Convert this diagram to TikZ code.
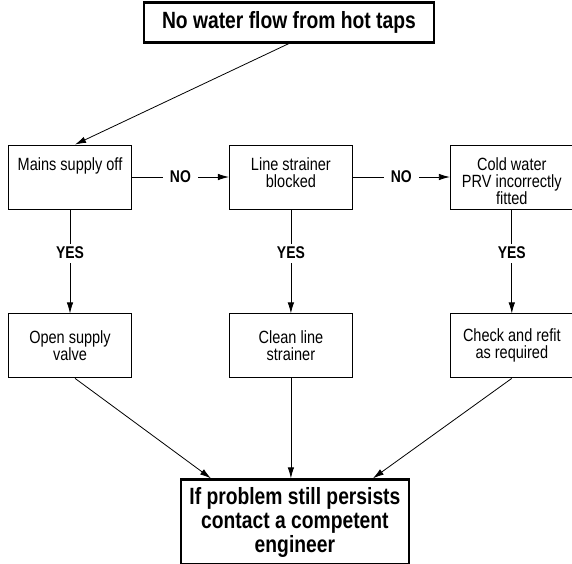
\documentclass[tikz,border=0pt]{standalone}
\usepackage{fontspec}
\setmainfont{Liberation Sans}[FakeStretch=0.82]
\usetikzlibrary{positioning}
\usetikzlibrary{arrows.meta}
\newcommand{\asktext}[1]{\parbox[c][64pt][t]{123pt}{\centering\vspace*{13pt}#1}}

\begin{document}
\begin{tikzpicture}[x=1pt, y=-1pt, line width=0.8pt, >={Latex[length=11pt,width=6.5pt]},
  every node/.style = {rectangle, inner sep=0pt},
  ask/.style = {draw, line width=0.9pt, minimum width=123pt, minimum height=64pt,
    font=\fontsize{17.7}{17}\selectfont},
  act/.style = {ask, align=center},
  head/.style = {draw, line width=2.4pt, align=center,
    font=\fontsize{23.5}{24}\selectfont\bfseries},
  reply/.style = {fill=white, inner xsep=7pt, inner ysep=3.5pt,
    font=\fontsize{17}{17}\selectfont\bfseries}]
  \useasboundingbox (0,0) rectangle (572,563);
  \node[ask] (Mains) at (70,177) {\asktext{Mains supply off}};
  \node[ask] (Strainer) [right = 97pt of Mains] {\asktext{Line strainer\\blocked}};
  \node[ask] (PRV) [right = 97pt of Strainer] {\asktext{Cold water\\PRV incorrectly\\fitted}};
  \node[act] (OpenValve) [below = 104pt of Mains] {Open supply\\valve};
  \node[act] (CleanStrainer) [below = 104pt of Strainer] {Clean line\\strainer};
  \node[act] (Refit) [below = 104pt of PRV] {Check and refit\\as required};
  \node[head, minimum width=290pt, minimum height=40pt] (NoFlow) [above = 101pt of Strainer, xshift=-2pt] {No water flow from hot taps};
  \node[head, minimum width=228pt, minimum height=85pt] (Engineer) [below = 100pt of CleanStrainer, xshift=4pt] {If problem still persists\\contact a competent\\engineer};

  \draw[->] (NoFlow.south) -- ([xshift=5pt]Mains.north);
  \draw[->] (Mains) -- node[reply] {NO} (Strainer);
  \draw[->] (Strainer) -- node[reply] {NO} (PRV);
  \draw[->] (Mains) -- node[reply, pos=0.42] {YES} (OpenValve);
  \draw[->] (Strainer) -- node[reply, pos=0.42] {YES} (CleanStrainer);
  \draw[->] (PRV) -- node[reply, pos=0.42] {YES} (Refit);
  \draw[->] ([xshift=5pt]OpenValve.south) -- ([xshift=-84pt]Engineer.north);
  \draw[->] (CleanStrainer) -- (CleanStrainer |- Engineer.north);
  \draw[->] (Refit.south) -- ([xshift=78pt]Engineer.north);
\end{tikzpicture}
\end{document}
